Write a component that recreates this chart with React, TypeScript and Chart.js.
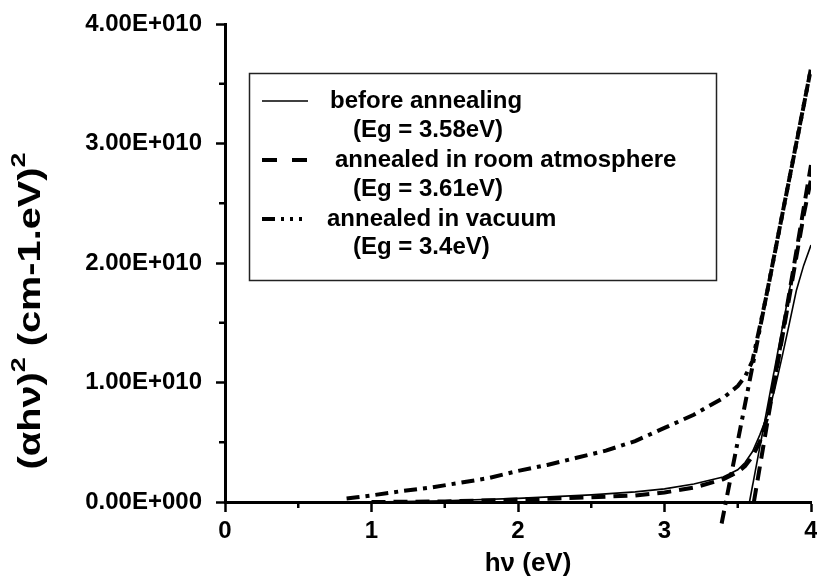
import { useEffect, useRef } from "react";
import { Chart, registerables } from "chart.js";

Chart.register(...registerables);

const FONT = "'Liberation Sans', Arial, Helvetica, sans-serif";
const SCALE = 1e10;

// axis ticks
const X_TICKS = [0, 1, 2, 3, 4];
const Y_TICKS = [0, 1, 2, 3, 4]; // in units of 1e10

// legend text
const SERIES_LABELS = ["before annealing", "annealed in room atmosphere", "annealed in vacuum"];
const GAP_LABELS = ["(Eg = 3.58eV)", "(Eg = 3.61eV)", "(Eg = 3.4eV)"];

// before annealing (solid) — values in units of 1e10 (cm-1.eV)^2
const beforeX = [1.0, 1.5, 2.0, 2.5, 2.8, 3.0, 3.2, 3.4, 3.5, 3.55, 3.6, 3.65, 3.7, 3.75, 3.8, 3.85, 3.9, 3.95, 4.0];
const beforeY = [0.0, 0.01, 0.03, 0.06, 0.085, 0.11, 0.15, 0.21, 0.27, 0.33, 0.42, 0.56, 0.72, 0.93, 1.2, 1.48, 1.77, 1.98, 2.15];
const beforeFitX = [3.58, 3.88];
const beforeFitY = [0.0, 1.95];

// annealed in room atmosphere (dashed)
const roomX = [1.0, 1.5, 2.0, 2.5, 2.8, 3.0, 3.2, 3.4, 3.5, 3.55, 3.6, 3.65, 3.7, 3.75, 3.8, 3.85, 3.9, 3.95, 4.0];
const roomY = [0.0, 0.005, 0.02, 0.04, 0.055, 0.08, 0.12, 0.19, 0.25, 0.3, 0.38, 0.5, 0.7, 1.0, 1.35, 1.7, 2.05, 2.4, 2.7];
const roomFitX = [3.61, 4.0];
const roomFitY = [0.0, 2.82];

// annealed in vacuum (dash-dot-dot)
const vacuumX = [0.83, 0.9, 1.0, 1.2, 1.4, 1.6, 1.8, 2.0, 2.2, 2.4, 2.6, 2.8, 3.0, 3.2, 3.4, 3.5, 3.55, 3.6, 3.7, 3.8, 3.9, 4.0];
const vacuumY = [0.03, 0.04, 0.055, 0.09, 0.12, 0.16, 0.2, 0.26, 0.31, 0.37, 0.43, 0.51, 0.62, 0.73, 0.87, 0.97, 1.05, 1.18, 1.75, 2.38, 3.0, 3.63];
const vacuumFitX = [3.39, 4.0];
const vacuumFitY = [-0.18, 3.63];

const pts = (xs: number[], ys: number[]) => xs.map((x, i) => ({ x, y: ys[i] * SCALE }));

const fmtSci = (v: number) => {
  if (v === 0) return "0.00E+000";
  const e = Math.floor(Math.log10(Math.abs(v)) + 1e-9);
  const m = v / Math.pow(10, e);
  return `${m.toFixed(2)}E${e >= 0 ? "+" : "-"}${String(Math.abs(e)).padStart(3, "0")}`;
};

const DASH = [14, 8];
const DASHDOT = [13, 6, 4, 6];

const decorPlugin = {
  id: "decor",
  afterDraw(chart: any) {
    const ctx = chart.ctx as CanvasRenderingContext2D;
    const xs = chart.scales.x;
    const ys = chart.scales.y;
    const area = chart.chartArea;
    ctx.save();
    // minor ticks
    ctx.strokeStyle = "#000";
    ctx.lineWidth = 2.5;
    for (let i = 0; i < X_TICKS.length - 1; i++) {
      const px = xs.getPixelForValue((X_TICKS[i] + X_TICKS[i + 1]) / 2);
      ctx.beginPath();
      ctx.moveTo(px, area.bottom);
      ctx.lineTo(px, area.bottom + 6);
      ctx.stroke();
    }
    for (let i = 0; i < Y_TICKS.length - 1; i++) {
      const py = ys.getPixelForValue(((Y_TICKS[i] + Y_TICKS[i + 1]) / 2) * SCALE);
      ctx.beginPath();
      ctx.moveTo(area.left, py);
      ctx.lineTo(area.left - 6, py);
      ctx.stroke();
    }

    // x title
    ctx.fillStyle = "#000";
    ctx.font = `bold 26px ${FONT}`;
    ctx.textAlign = "center";
    ctx.textBaseline = "middle";
    ctx.fillText("hν (eV)", 528, 564);

    // y title (rotated with superscripts)
    const parts = [
      { t: "(αhν)", sup: false },
      { t: "2", sup: true },
      { t: " (cm-1.eV)", sup: false },
      { t: "2", sup: true },
    ];
    const mainFont = `bold 31px ${FONT}`;
    const supFont = `bold 21px ${FONT}`;
    let total = 0;
    const widths = parts.map((p) => {
      ctx.font = p.sup ? supFont : mainFont;
      const w = ctx.measureText(p.t).width;
      total += w;
      return w;
    });
    ctx.translate(31, 311);
    ctx.rotate(-Math.PI / 2);
    ctx.scale(317 / total, 1);
    ctx.textAlign = "left";
    let cx = -total / 2;
    parts.forEach((p, i) => {
      ctx.font = p.sup ? supFont : mainFont;
      ctx.fillText(p.t, cx, p.sup ? -12 : 0);
      cx += widths[i];
    });
    ctx.restore();

    // legend
    ctx.save();
    ctx.fillStyle = "#fff";
    ctx.fillRect(249, 73, 468, 208);
    ctx.strokeStyle = "#222";
    ctx.lineWidth = 1.5;
    ctx.strokeRect(249.5, 73.5, 467, 207);
    const rows = [
      { y: 101, gy: 130, tx: 330, dash: [] as number[], lw: 1.5 },
      { y: 160, gy: 189, tx: 335, dash: [15, 15], lw: 4 },
      { y: 219, gy: 247, tx: 327, dash: [13, 6, 3, 6, 3, 6, 3, 6], lw: 4 },
    ];
    ctx.fillStyle = "#000";
    ctx.font = `bold 24px ${FONT}`;
    ctx.textAlign = "left";
    ctx.textBaseline = "middle";
    rows.forEach((r, i) => {
      ctx.strokeStyle = "#000";
      ctx.lineWidth = r.lw;
      ctx.setLineDash(r.dash);
      ctx.beginPath();
      ctx.moveTo(262, r.y);
      ctx.lineTo(308, r.y);
      ctx.stroke();
      ctx.setLineDash([]);
      ctx.fillText(SERIES_LABELS[i], r.tx, r.y);
      ctx.fillText(GAP_LABELS[i], 353, r.gy);
    });
    ctx.restore();
  },
};

export default function App() {
  const ref = useRef<HTMLCanvasElement | null>(null);
  useEffect(() => {
    if (!ref.current) return;
    const line = (data: any[], dash: number[], width: number, clip = true) => ({
      data,
      borderColor: "#000",
      backgroundColor: "#000",
      borderWidth: width,
      borderDash: dash,
      pointRadius: 0,
      showLine: true,
      tension: 0,
      fill: false,
      clip: clip ? undefined : false,
    });
    const chart = new Chart(ref.current, {
      type: "scatter",
      data: {
        datasets: [
          { label: SERIES_LABELS[0], ...line(pts(beforeX, beforeY), [], 1.6) },
          { label: SERIES_LABELS[0] + " fit", ...line(pts(beforeFitX, beforeFitY), [], 1.6) },
          { label: SERIES_LABELS[1], ...line(pts(roomX, roomY), DASH, 4) },
          { label: SERIES_LABELS[1] + " fit", ...line(pts(roomFitX, roomFitY), DASH, 4) },
          { label: SERIES_LABELS[2], ...line(pts(vacuumX, vacuumY), DASHDOT, 4) },
          { label: SERIES_LABELS[2] + " fit", ...line(pts(vacuumFitX, vacuumFitY), DASHDOT, 4, false) },
        ] as any,
      },
      options: {
        animation: false,
        responsive: false,
        devicePixelRatio: 1,
        layout: { padding: { top: 24, right: 6, left: 0, bottom: 0 } },
        plugins: { legend: { display: false }, tooltip: { enabled: false } },
        scales: {
          x: {
            type: "linear",
            min: X_TICKS[0],
            max: X_TICKS[X_TICKS.length - 1],
            afterBuildTicks: (s: any) => {
              s.ticks = X_TICKS.map((v) => ({ value: v }));
            },
            ticks: {
              color: "#000",
              font: { family: FONT, size: 24, weight: "bold" },
              padding: 5,
              maxRotation: 0,
              callback: (v: any) => String(v),
            },
            grid: { drawOnChartArea: false, drawTicks: true, tickLength: 10, tickWidth: 2.5, tickColor: "#000" },
            border: { display: true, color: "#000", width: 3 },
            afterFit: (s: any) => {
              s.height = 75;
              s.paddingRight = 6;
              s.paddingLeft = 0;
            },
          },
          y: {
            type: "linear",
            min: Y_TICKS[0] * SCALE,
            max: Y_TICKS[Y_TICKS.length - 1] * SCALE,
            afterBuildTicks: (s: any) => {
              s.ticks = Y_TICKS.map((v) => ({ value: v * SCALE }));
            },
            ticks: {
              color: "#000",
              font: { family: FONT, size: 24, weight: "bold" },
              padding: 14,
              callback: (v: any) => fmtSci(Number(v)),
            },
            grid: { drawOnChartArea: false, drawTicks: true, tickLength: 9, tickWidth: 2.5, tickColor: "#000" },
            border: { display: true, color: "#000", width: 3 },
            afterFit: (s: any) => {
              s.width = 225;
              s.paddingTop = 0;
              s.paddingBottom = 0;
            },
          },
        },
      } as any,
      plugins: [decorPlugin],
    });
    return () => chart.destroy();
  }, []);
  return (
    <div style={{ position: "absolute", left: 0, top: 0, width: 817, height: 577, background: "#fff" }}>
      <canvas ref={ref} width={817} height={577} />
    </div>
  );
}
